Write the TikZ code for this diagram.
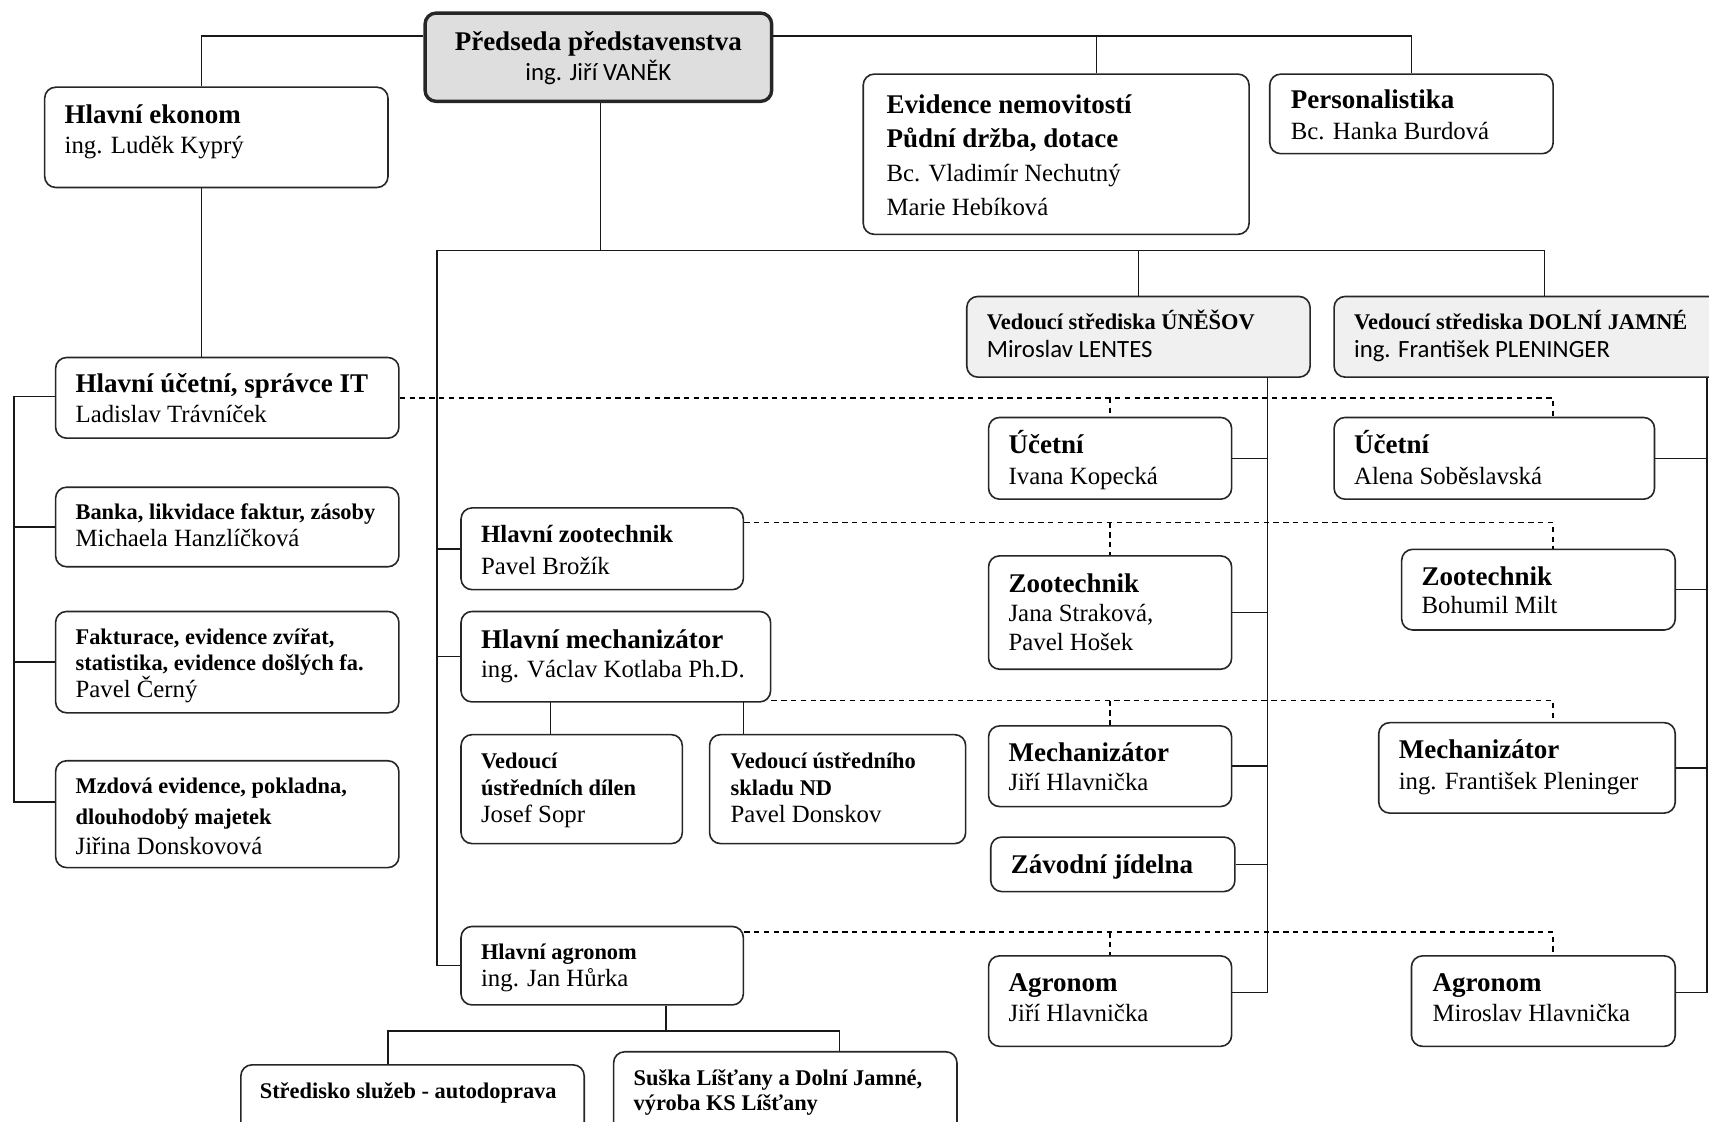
\documentclass[tikz,border=0pt]{standalone}
\usepackage{fontspec}
\setmainfont{Liberation Serif}
\newfontfamily\calibrifont{Carlito}
\usetikzlibrary{fit,positioning}

\newcommand{\hdbig}{\fontsize{13.5}{16}\selectfont\bfseries}
\newcommand{\hdmid}{\fontsize{12.4}{15}\selectfont\bfseries}
\newcommand{\hdsmall}{\fontsize{11.2}{13}\selectfont\bfseries}
\newcommand{\sansrm}{\calibrifont\fontsize{12.4}{15}\selectfont}
\newcommand{\rowsl}[2]{\vtop{\lineskiplimit=-\maxdimen\baselineskip=#1\relax
  \halign{##\hfil\cr#2\crcr}}}
\newcommand{\rowsc}[2]{\vtop{\lineskiplimit=-\maxdimen\baselineskip=#1\relax
  \halign{\hfil##\hfil\cr#2\crcr}}}

\tikzset{
  unit/.style={draw=black!85, line width=0.8pt, rounded corners=5.5pt,
    inner sep=0pt, fill=white},
  chief/.style={unit, fill=black!13, line width=1.7pt},
  centre/.style={unit, fill=black!6},
  txt/.style={anchor=base west, inner sep=0pt,
    font=\fontsize{12.4}{15}\selectfont},
  link/.style={line width=0.75pt, black!90},
  duty/.style={line width=0.75pt, dash pattern=on 2.7pt off 2.2pt}
}

\begin{document}
\begin{tikzpicture}[x=0.545pt,y=-0.545pt]
\useasboundingbox (0,0) rectangle (1568,1029);

% boxes
\node[chief, fit={(390,12) (708,93)}] (board) {};
\node[unit, fit={(41,80) (356,172)}] (ekonom) {};
\node[unit, fit={(51,328) (366,402)}] (ucetni) {};
\node[unit, fit={(51,447) (366,520)}] (banka) {};
\node[unit, fit={(51,561) (366,654)}] (faktura) {};
\node[unit, fit={(51,698) (366,796)}] (mzdova) {};
\node[unit, fit={(792,68) (1146,215)}] (evidence) {};
\node[unit, fit={(1165,68) (1425,141)}] (personal) {};
\node[centre, fit={(887,272) (1202,346)}] (unhead) {};
\node[centre, fit={(1224,272) (1610,346)}] (djhead) {};
\node[unit, fit={(907,383) (1130,458)}] (uctU) {};
\node[unit, fit={(1224,383) (1518,458)}] (uctD) {};
\node[unit, fit={(423,466) (682,541)}] (hzoo) {};
\node[unit, fit={(907,510) (1130,614)}] (zooU) {};
\node[unit, fit={(1286,504) (1537,578)}] (zooD) {};
\node[unit, fit={(423,561) (707,644)}] (hmech) {};
\node[unit, fit={(423,674) (626,774)}] (dilen) {};
\node[unit, fit={(651,674) (886,774)}] (sklad) {};
\node[unit, fit={(907,666) (1130,740)}] (mechU) {};
\node[unit, fit={(1265,663) (1537,746)}] (mechD) {};
\node[unit, fit={(909,768) (1133,818)}] (jidelna) {};
\node[unit, fit={(423,850) (682,922)}] (hagron) {};
\node[unit, fit={(907,877) (1130,960)}] (agrU) {};
\node[unit, fit={(1295,877) (1537,960)}] (agrD) {};
\node[unit, fit={(221,977) (536,1060)}] (stred) {};
\node[unit, fit={(563,965) (878,1060)}] (suska) {};

% texts
\node[txt, anchor=base] (board-t) at (549,46)
  {\rowsc{15.3pt}{{\hdbig Předseda představenstva}\cr{\sansrm ing. Jiří VANĚK}}};
\node[txt] (ekonom-t) at (59,113)
  {\rowsl{15.3pt}{{\hdbig Hlavní ekonom}\cr ing. Luděk Kyprý}};
\node[txt] (ucetni-t) at (69,360)
  {\rowsl{15.3pt}{{\hdbig Hlavní účetní, správce IT}\cr Ladislav Trávníček}};
\node[txt] (banka-t) at (69,477)
  {\rowsl{13.1pt}{{\hdsmall Banka, likvidace faktur, zásoby}\cr Michaela Hanzlíčková}};
\node[txt] (faktura-t) at (69,591)
  {\rowsl{13.4pt}{{\hdsmall Fakturace, evidence zvířat,}\cr
   {\hdsmall statistika, evidence došlých fa.}\cr Pavel Černý}};
\node[txt] (mzdova-t) at (69,728)
  {\rowsl{15.3pt}{{\hdsmall Mzdová evidence, pokladna,}\cr
   {\hdsmall dlouhodobý majetek}\cr Jiřina Donskovová}};
\node[txt] (evidence-t) at (813,104)
  {\rowsl{17pt}{{\hdbig Evidence nemovitostí}\cr{\hdbig Půdní držba, dotace}\cr
   Bc. Vladimír Nechutný\cr Marie Hebíková}};
\node[txt] (personal-t) at (1184,100)
  {\rowsl{15.3pt}{{\hdbig Personalistika}\cr Bc. Hanka Burdová}};
\node[txt] (unhead-t) at (905,302)
  {\rowsl{14.2pt}{{\hdsmall Vedoucí střediska ÚNĚŠOV}\cr{\sansrm Miroslav LENTES}}};
\node[txt] (djhead-t) at (1242,302)
  {\rowsl{14.2pt}{{\hdsmall Vedoucí střediska DOLNÍ JAMNÉ}\cr{\sansrm ing. František PLENINGER}}};
\node[txt] (uctU-t) at (925,416)
  {\rowsl{15.3pt}{{\hdbig Účetní}\cr Ivana Kopecká}};
\node[txt] (uctD-t) at (1242,416)
  {\rowsl{15.3pt}{{\hdbig Účetní}\cr Alena Soběslavská}};
\node[txt] (hzoo-t) at (441,498)
  {\rowsl{15.8pt}{{\hdmid Hlavní zootechnik}\cr Pavel Brožík}};
\node[txt] (zooU-t) at (925,544)
  {\rowsl{14.4pt}{{\hdbig Zootechnik}\cr Jana Straková,\cr Pavel Hošek}};
\node[txt] (zooD-t) at (1304,537)
  {\rowsl{14.2pt}{{\hdbig Zootechnik}\cr Bohumil Milt}};
\node[txt] (hmech-t) at (441,595)
  {\rowsl{14.7pt}{{\hdbig Hlavní mechanizátor}\cr ing. Václav Kotlaba Ph.D.}};
\node[txt] (dilen-t) at (441,705)
  {\rowsl{13.4pt}{{\hdsmall Vedoucí}\cr{\hdsmall ústředních dílen}\cr Josef Sopr}};
\node[txt] (sklad-t) at (670,705)
  {\rowsl{13.4pt}{{\hdsmall Vedoucí ústředního}\cr{\hdsmall skladu ND}\cr Pavel Donskov}};
\node[txt] (mechU-t) at (925,699)
  {\rowsl{14.2pt}{{\hdbig Mechanizátor}\cr Jiří Hlavnička}};
\node[txt] (mechD-t) at (1283,696)
  {\rowsl{15.3pt}{{\hdbig Mechanizátor}\cr ing. František Pleninger}};
\node[txt] (jidelna-t) at (927,801) {\hdbig Závodní jídelna};
\node[txt] (hagron-t) at (441,880)
  {\rowsl{13.6pt}{{\hdsmall Hlavní agronom}\cr ing. Jan Hůrka}};
\node[txt] (agrU-t) at (925,910)
  {\rowsl{14.7pt}{{\hdbig Agronom}\cr Jiří Hlavnička}};
\node[txt] (agrD-t) at (1314,910)
  {\rowsl{14.7pt}{{\hdbig Agronom}\cr Miroslav Hlavnička}};
\node[txt] (stred-t) at (238,1008) {\hdsmall Středisko služeb - autodoprava};
\node[txt] (suska-t) at (581,996)
  {\rowsl{12.5pt}{{\hdsmall Suška Líšťany a Dolní Jamné,}\cr{\hdsmall výroba KS Líšťany}}};

% board lines
\coordinate (b-l) at (185,33);
\coordinate (b-e) at (1006,33);
\coordinate (b-r) at (1295,33);
\coordinate (mid) at (551,230);
\coordinate (prod) at (401,230);
\draw[link] (board.west |- b-l) -- (b-l) -- (ekonom.north -| b-l);
\draw[link] (ekonom.south -| b-l) -- (ucetni.north -| b-l);
\draw[link] (board.east |- b-r) -- (b-r) -- (personal.north -| b-r);
\draw[link] (b-e) -- (evidence.north -| b-e);
\draw[link] (board.south -| mid) -- (mid);
\draw[link] (hagron.west) -| (prod) -| (djhead.north);
\draw[link] (unhead.north |- prod) -- (unhead.north);
\foreach \n in {hzoo,hmech} \draw[link] (\n.west) -- (\n.west -| prod);

% accounting
\coordinate (acc) at (13,364);
\draw[link] (ucetni.west |- acc) -- (acc) |- ([shift={(0,-11)}]mzdova.west);
\foreach \n in {banka,faktura} \draw[link] (\n.west) -- (\n.west -| acc);

% centres
\coordinate (un-bus) at (1163,346);
\coordinate (dj-bus) at (1566,346);
\draw[link] (unhead.south -| un-bus) |- ([shift={(0,-8)}]agrU.east);
\foreach \n in {uctU,zooU,mechU,jidelna} \draw[link] (\n.east) -- (\n.east -| un-bus);
\draw[link] (djhead.south -| dj-bus) |- ([shift={(0,-8)}]agrD.east);
\foreach \n in {uctD,zooD,mechD} \draw[link] (\n.east) -- (\n.east -| dj-bus);

% methodical lines
\coordinate (colD) at (1425,0);
\coordinate (d1) at (ucetni.east);
\coordinate (d2) at ([shift={(0,14)}]hzoo.north east);
\coordinate (d3) at ([shift={(0,-2)}]hmech.south east);
\coordinate (d4) at ([shift={(0,6)}]hagron.north east);
\foreach \d/\u/\v in {d1/uctU/uctD, d2/zooU/zooD, d3/mechU/mechD, d4/agrU/agrD}{
  \draw[duty] (\d) -| (\v.north -| colD);
  \draw[duty] (\u.north |- \d) -- (\u.north);
}

% workshops and stores
\coordinate (m1) at (505,644);
\coordinate (m2) at (682,644);
\draw[link] (m1) -- (dilen.north -| m1);
\draw[link] (m2) -- (sklad.north -| m2);

% agronomy
\coordinate (a-bus) at (611,946);
\coordinate (a-l) at (356,946);
\coordinate (a-r) at (770,946);
\draw[link] (hagron.south -| a-bus) -- (a-bus);
\draw[link] (stred.north -| a-l) -- (a-l) -- (a-r) -- (suska.north -| a-r);
\end{tikzpicture}
\end{document}
